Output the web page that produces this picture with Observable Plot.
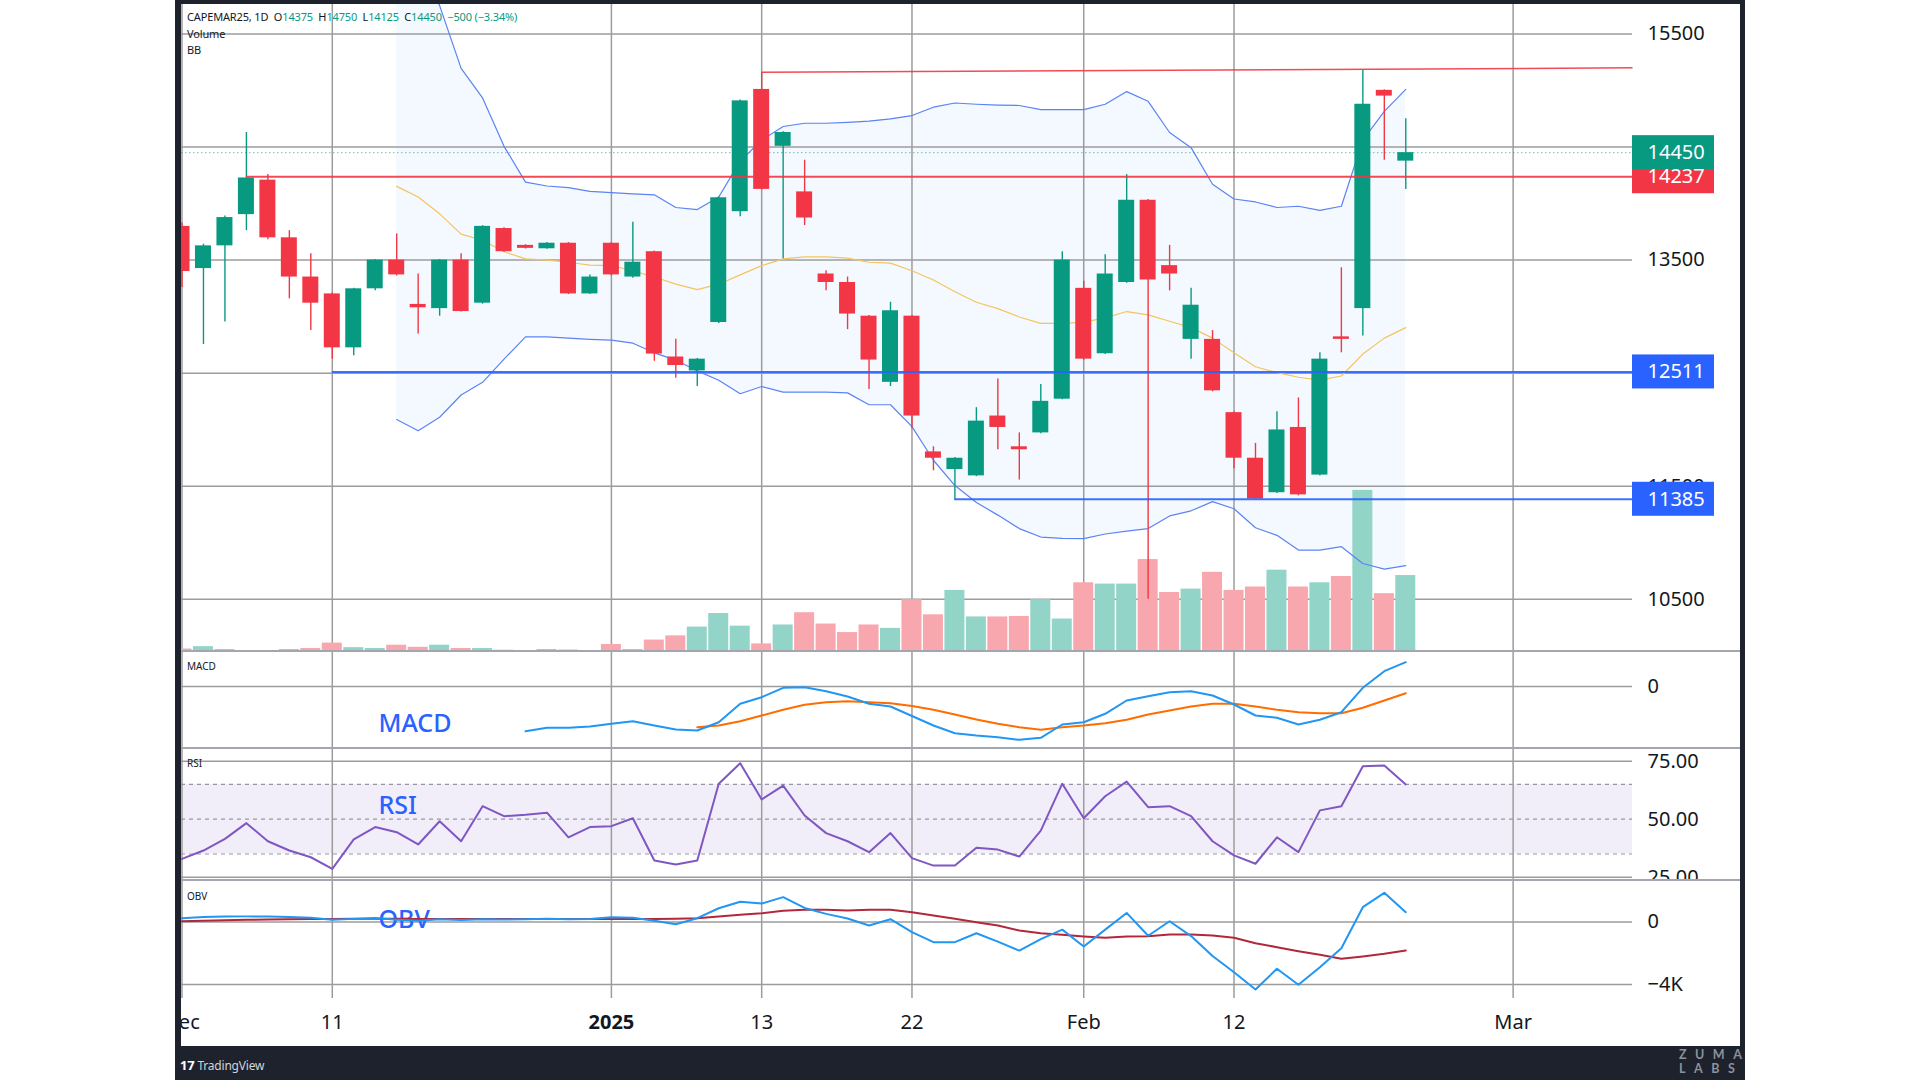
<!DOCTYPE html>
<html><head><meta charset="utf-8">
<script src="https://cdn.jsdelivr.net/npm/d3@7"></script>
<script src="https://cdn.jsdelivr.net/npm/@observablehq/plot@0.6"></script>
<style>
html,body{margin:0;padding:0;width:1920px;height:1080px;overflow:hidden;background:#fff;font-family:"Noto Sans",Roboto,sans-serif;}
#root{position:relative;width:1920px;height:1080px;}
#panes{position:absolute;left:181px;top:0;width:1559px;height:1046px;overflow:hidden;background:#fff;}
.frame{position:absolute;background:#1e222d;z-index:50;}
.divider{position:absolute;left:0;width:1559px;height:2px;background:#a3a6ae;z-index:20;}
#hdr{position:absolute;left:6px;top:9px;font-size:11px;letter-spacing:-0.15px;line-height:16.5px;color:#131722;z-index:30;white-space:pre;}
#hdr .g{color:#089981;}
.ptitle{position:absolute;left:6px;font-size:10px;color:#131722;z-index:30;}
</style></head>
<body><div id="root"><div id="panes"></div></div>
<script>
// ---------------- DATA ----------------
const dates = ["2024-12-02","2024-12-03","2024-12-04","2024-12-05","2024-12-06","2024-12-09","2024-12-10","2024-12-11","2024-12-12","2024-12-13",
"2024-12-16","2024-12-17","2024-12-18","2024-12-19","2024-12-20","2024-12-23","2024-12-24","2024-12-27","2024-12-30","2024-12-31",
"2025-01-02","2025-01-03","2025-01-06","2025-01-07","2025-01-08","2025-01-09","2025-01-10","2025-01-13","2025-01-14","2025-01-15",
"2025-01-16","2025-01-17","2025-01-20","2025-01-21","2025-01-22","2025-01-23","2025-01-24","2025-01-27","2025-01-28","2025-01-29",
"2025-01-30","2025-01-31","2025-02-03","2025-02-04","2025-02-05","2025-02-06","2025-02-07","2025-02-10","2025-02-11","2025-02-12",
"2025-02-13","2025-02-14","2025-02-17","2025-02-18","2025-02-19","2025-02-20","2025-02-21","2025-02-24"];
const open  = [13798,13425,13626,13902,14207,13697,13350,13201,12724,13246, 13500,13108,13071,13500,13119,13779,13630,13600,13649,13201,
               13649,13350,13574,12643,12520,12948,13928,15009,14506,14103, 13377,13302,13004,12419,13004,11804,11648,11592,12121,11849,
               11972,12270,13250,12672,13302,14029,13451,12799,12799,12151, 11748,11443,12020,11599,12821,13071,15001,14375];
const high  = [13830,13640,13890,14628,14256,13760,13555,13210,13250,13505, 13731,13377,13505,13555,13805,13785,13636,13655,13655,13369,
               13655,13835,13580,12799,12630,14060,14915,15158,14635,14383, 13406,13350,13010,13127,13010,11849,11755,12195,12449,11972,
               12400,13574,13313,13548,14256,14035,13630,13250,12877,12160, 11879,12158,12281,12680,13432,15176,15005,14750];
const low   = [13257,12754,12952,13760,13680,13157,12877,12624,12654,13228, 13360,12847,13004,13040,13110,13570,13598,13595,13195,13195,
               13360,13340,12605,12456,12382,12940,13883,14120,13511,13805, 13228,12885,12356,12382,12009,11637,11376,11585,11823,11555,
               11965,12265,12615,12665,13295,10500,13228,12624,12335,11655, 11385,11435,11415,11590,12680,12829,14383,14125];
const close = [13399,13626,13876,14226,13697,13350,13119,12724,13246,13500, 13369,13078,13500,13045,13798,13574,13604,13649,13201,13350,
               13369,13481,12669,12568,12624,14051,14908,14125,14628,13872, 13302,13023,12616,13052,12121,11748,11748,12076,12020,11823,
               12251,13500,12624,13377,14029,13324,13377,13101,12344,11748, 11387,11998,11424,12624,12799,14878,14950,14450];
const volume = [40,78,32,8,8,32,49,136,62,49, 102,68,102,49,49,21,13,32,24,8,
                113,32,185,253,395,614,410,123,429,627, 444,306,429,374,839,593,988,559,559,567,
                839,525,1111,1090,1090,1487,954,1009,1281,988, 1043,1315,1043,1111,1213,2605,935,1228];
const bbUpper = [null,null,null,null,null,null,null,null,null,null,
                 16213,16125,15750,15195,14934,14506,14189,14155,14140,14107, 14096,14085,14077,13965,13947,14058,14375,14561,14681,14710,
                 14710,14718,14729,14748,14778,14852,14889,14878,14871,14867, 14830,14830,14830,14878,14990,14904,14628,14494,14170,14040,
                 14014,13965,13976,13939,13976,14561,14815,15009];
const bbBasis = [null,null,null,null,null,null,null,null,null,null,
                 14152,14058,13909,13730,13675,13574,13511,13500,13481,13455, 13451,13406,13350,13287,13239,13287,13369,13451,13511,13529,
                 13529,13518,13481,13473,13406,13324,13220,13127,13071,12997, 12941,12941,12952,12989,13045,13015,12959,12903,12810,12680,
                 12557,12505,12464,12438,12475,12669,12810,12903];
const bbLower = [null,null,null,null,null,null,null,null,null,null,
                 12091,11991,12110,12307,12419,12624,12821,12821,12810,12799, 12792,12765,12680,12616,12520,12438,12318,12382,12333,12333,
                 12333,12326,12221,12221,12028,11730,11506,11357,11245,11126, 11051,11040,11037,11078,11104,11126,11238,11283,11364,11301,
                 11133,11066,10936,10936,10966,10817,10768,10798];
const macdLine = [null,null,null,null,null,null,null,null,null,null, null,null,null,null,null,null,
                  -447,-413,-413,-400, -373,-347,-390,-430,-440,-357,-173,-107,-13,-7,
                  -47,-100,-173,-200,-295,-390,-467,-490,-507,-533, -513,-380,-357,-273,-140,-97,-57,-47,-90,-180,
                  -290,-313,-380,-333,-257,-13,153,243];
const macdSignal = [null,null,null,null,null,null,null,null,null,null, null,null,null,null,null,null,null,null,null,null,
                  null,null,null,null,-407,-390,-347,-290,-233,-183,
                  -157,-147,-157,-167,-195,-233,-280,-330,-373,-407, -433,-407,-390,-367,-333,-280,-240,-200,-173,-173,
                  -200,-233,-257,-267,-267,-213,-140,-67];
const rsi = [32.9,36.5,41.5,48.3,40.5,36.5,33.6,28.6,41.3,46.6, 44.4,39.1,49.1,40.5,55.6,51.3,51.9,52.8,42.2,46.6,
             47.0,50.4,32.2,30.5,32.2,65.3,74.1,58.5,64.5,51.6, 44.0,40.5,35.8,44.0,33.2,30.0,30.0,37.7,36.9,33.9,
             45.1,65.3,50.4,59.9,66.2,55.2,55.6,51.3,40.5,34.4, 30.8,42.2,35.8,53.8,55.6,72.8,73.1,65.0];
const obv = [245,320,350,360,350,320,275,140,200,250, 150,80,180,130,180,160,175,205,180,190,
             300,270,85,-140,245,880,1300,1180,1590,900, 520,220,-225,180,-650,-1290,-1290,-720,-1260,-1830,
             -1100,-490,-1570,-490,580,-880,50,-900,-2180,-3220, -4320,-2990,-4020,-2890,-1675,949,1867,629];
const obvSmooth = [50,80,110,140,160,180,195,200,205,205, 205,200,200,195,195,190,190,190,190,190,
             195,200,200,210,245,350,460,565,715,780, 780,740,780,780,630,416,203,-11,-224,-544,
             -715,-821,-928,-1013,-928,-907,-800,-800,-864,-1013, -1355,-1611,-1867,-2101,-2357,-2208,-2037,-1824];
const tickBars   = [0, 7, 20, 27, 34, 42, 49, 62];
const tickLabels = ["Dec", "11", "2025", "13", "22", "Feb", "12", "Mar"];
const tickIsYear = [false, false, true, false, false, false, false, false];
const priceTicks = [15500, 14500, 13500, 12500, 11500, 10500];
const macdTicks = [0];
const rsiTicks = [75, 50, 25];
const rsiBandLevels = [65, 50, 35];
const obvTicks = [0, -4000];
const obvTickLabels = ["0", "\u22124K"];
const levels = [
  {price: 14237, fromBar: 3, kind: "resistance"},
  {price: 12511, fromBar: 7, kind: "support"},
  {price: 11385, fromBar: 36, kind: "support"}
];
const trendLine = {fromBar: 27, fromPrice: 15160, toPrice: 15200};

// ---------------- LAYOUT / STYLE ----------------
const UP = "#089981", DOWN = "#f23645", BLUE = "#2962ff";
const VOL_UP = "#92d4c8", VOL_DOWN = "#f9a7ae";
const GRID = "#9c9c9c";
const FONT = '"Noto Sans", Roboto, sans-serif';
const W = 1559, MR = 108;
const X_DOMAIN = [-0.0233, 67.56];
const panes = document.getElementById("panes");

const rows = dates.map((d, i) => ({i, date: d, o: open[i], h: high[i], l: low[i], c: close[i], v: volume[i]}));
const col = d => d.c >= d.o ? UP : DOWN;
const bb = rows.map(r => ({i: r.i, up: bbUpper[r.i], mid: bbBasis[r.i], lo: bbLower[r.i]})).filter(d => d.mid != null);
const macdRows = rows.map(r => ({i: r.i, v: macdLine[r.i]})).filter(d => d.v != null);
const sigRows = rows.map(r => ({i: r.i, v: macdSignal[r.i]})).filter(d => d.v != null);
const rsiRows = rows.map(r => ({i: r.i, v: rsi[r.i]}));
const obvRows = rows.map(r => ({i: r.i, v: obv[r.i], s: obvSmooth[r.i]}));
const last = rows[rows.length - 1], prev = rows[rows.length - 2];
const xEnd = X_DOMAIN[1];

function pane(top, height, yDomain, marks) {
  const p = Plot.plot({
    width: W, height, marginLeft: 0, marginRight: MR, marginTop: 0, marginBottom: 0,
    x: {domain: X_DOMAIN, axis: null},
    y: {domain: yDomain, axis: null},
    style: {position: "absolute", left: "0px", top: top + "px", background: "transparent", maxWidth: "none", overflow: "hidden", fontFamily: FONT},
    marks
  });
  panes.appendChild(p);
  return p;
}
const vGrid = () => Plot.ruleX(tickBars, {stroke: GRID, strokeWidth: 1.5});
const axisText = (ticks, text) => Plot.text(ticks, {x: xEnd, y: d => d, text: (d, k) => text ? text[k] : String(d), dx: 15, textAnchor: "start", fontSize: 20, fill: "#131722"});

// main pane geometry
const MAIN_TOP = 4, MAIN_H = 647, PRICE_DOMAIN = [10039, 15760];

// layer A: grid + BB background
pane(MAIN_TOP, MAIN_H, PRICE_DOMAIN, [
  Plot.areaY(bb, {x: "i", y1: "lo", y2: "up", fill: "#2196f3", fillOpacity: 0.055, clip: true}),
  Plot.ruleY(priceTicks, {stroke: GRID, strokeWidth: 1.5}),
  vGrid()
]);
// layer B: volume
pane(MAIN_TOP, MAIN_H, [0, d3.max(volume) / 0.249], [
  Plot.rect(rows, {x1: "i", x2: "i", y1: 0, y2: "v", insetLeft: -10, insetRight: -10, fill: d => d.c >= d.o ? VOL_UP : VOL_DOWN, clip: true})
]);
// layer C: price
const tags = [
  {value: levels[0].price, fill: DOWN},
  {value: last.c, fill: UP},
  {value: levels[1].price, fill: BLUE},
  {value: levels[2].price, fill: BLUE}
];
pane(MAIN_TOP, MAIN_H, PRICE_DOMAIN, [
  Plot.line(bb, {x: "i", y: "up", stroke: "#5b83f5", strokeWidth: 1.2, clip: true}),
  Plot.line(bb, {x: "i", y: "lo", stroke: "#5b83f5", strokeWidth: 1.2, clip: true}),
  Plot.line(bb, {x: "i", y: "mid", stroke: "#f5c45e", strokeWidth: 1.2, clip: true}),
  Plot.ruleY([last.c], {stroke: UP, strokeOpacity: 0.6, strokeDasharray: "1.5,2.5", strokeWidth: 1}),
  Plot.ruleX(rows, {x: "i", y1: "l", y2: "h", stroke: col, strokeWidth: 1.4, clip: true}),
  Plot.rect(rows, {x1: "i", x2: "i", y1: "o", y2: "c", insetLeft: -8, insetRight: -8, fill: col, clip: true}),
  Plot.ruleY(levels, {y: "price", x1: "fromBar", x2: xEnd, stroke: d => d.kind === "resistance" ? DOWN : BLUE, strokeWidth: 2, strokeOpacity: 0.9}),
  Plot.link([trendLine], {x1: "fromBar", y1: "fromPrice", x2: xEnd, y2: "toPrice", stroke: DOWN, strokeWidth: 1.5, strokeOpacity: 0.9}),
  axisText(priceTicks),
  Plot.rect(tags, {x1: xEnd, x2: xEnd, y1: "value", y2: "value", insetRight: -82, insetTop: -17, insetBottom: -17, fill: "fill"}),
  Plot.text(tags, {x: xEnd, y: "value", text: d => String(d.value), dx: 15, textAnchor: "start", fontSize: 20, fill: "white"})
]);

// MACD pane
pane(651, 97, [-620, 350], [
  Plot.ruleY(macdTicks, {stroke: GRID, strokeWidth: 1.5}),
  vGrid(),
  Plot.text(["MACD"], {frameAnchor: "top-left", dx: 197, dy: 72, textAnchor: "start", lineAnchor: "middle", fontSize: 25, fontWeight: 500, fill: BLUE}),
  Plot.line(sigRows, {x: "i", y: "v", stroke: "#ff6d00", strokeWidth: 2}),
  Plot.line(macdRows, {x: "i", y: "v", stroke: "#2196f3", strokeWidth: 2}),
  axisText(macdTicks)
]);
// RSI pane
pane(748, 132, [23.58, 80.47], [
  Plot.rect([{lo: rsiBandLevels[2], hi: rsiBandLevels[0]}], {y1: "lo", y2: "hi", fill: "#7e57c2", fillOpacity: 0.1}),
  Plot.ruleY([rsiTicks[0], rsiTicks[2]], {stroke: GRID, strokeWidth: 1.5}),
  Plot.ruleY(rsiBandLevels, {stroke: "#9598a1", strokeWidth: 1.2, strokeDasharray: "4,4"}),
  vGrid(),
  Plot.text(["RSI"], {frameAnchor: "top-left", dx: 197, dy: 57, textAnchor: "start", lineAnchor: "middle", fontSize: 25, fontWeight: 500, fill: BLUE}),
  Plot.line(rsiRows, {x: "i", y: "v", stroke: "#7e57c2", strokeWidth: 2}),
  axisText(rsiTicks, rsiTicks.map(d => d.toFixed(2)))
]);
// OBV pane
pane(880, 118, [-4896, 2656], [
  Plot.ruleY(obvTicks, {stroke: GRID, strokeWidth: 1.5}),
  vGrid(),
  Plot.text(["OBV"], {frameAnchor: "top-left", dx: 197, dy: 39, textAnchor: "start", lineAnchor: "middle", fontSize: 25, fontWeight: 500, fill: BLUE}),
  Plot.line(obvRows, {x: "i", y: "s", stroke: "#b2283a", strokeWidth: 2}),
  Plot.line(obvRows, {x: "i", y: "v", stroke: "#2196f3", strokeWidth: 2}),
  axisText(obvTicks, obvTickLabels)
]);
// time axis
const ticks = tickBars.map((b, k) => ({b, label: tickLabels[k], year: tickIsYear[k]}));
pane(998, 48, [0, 1], [
  Plot.text(ticks.filter(d => !d.year), {x: "b", text: "label", fontSize: 20, fill: "#131722"}),
  Plot.text(ticks.filter(d => d.year), {x: "b", text: "label", fontSize: 20, fontWeight: 700, fill: "#131722"})
]);

// dividers
[650, 747, 879].forEach(y => {
  const d = document.createElement("div"); d.className = "divider"; d.style.top = y + "px"; panes.appendChild(d);
});
// header and pane titles
const chg = last.c - prev.c, pct = chg / prev.c * 100;
const sgn = v => (v < 0 ? "\u2212" : "+");
const hdr = document.createElement("div"); hdr.id = "hdr";
hdr.innerHTML = `CAPEMAR25, 1D  O<span class="g">${last.o}</span>  H<span class="g">${last.h}</span>  L<span class="g">${last.l}</span>  C<span class="g">${last.c}</span>  <span class="g">${sgn(chg)}${Math.abs(chg)} (${sgn(chg)}${Math.abs(pct).toFixed(2)}%)</span>\nVolume\nBB`;
panes.appendChild(hdr);
[["MACD", 659], ["RSI", 756], ["OBV", 889]].forEach(([t, y]) => {
  const d = document.createElement("div"); d.className = "ptitle"; d.style.top = y + "px"; d.textContent = t; panes.appendChild(d);
});

// frame + footer
const root = document.getElementById("root");
function box(l, t, w, h) { const d = document.createElement("div"); d.className = "frame"; Object.assign(d.style, {left: l + "px", top: t + "px", width: w + "px", height: h + "px"}); root.appendChild(d); return d; }
box(175, 0, 6, 1080); box(1740, 0, 5, 1080); box(175, 0, 1570, 4);
const foot = box(175, 1046, 1570, 34);
foot.innerHTML = `<div style="position:absolute;left:5px;top:10px;font-size:12px;color:#d1d4dc;letter-spacing:-0.2px"><b style="color:#fff;font-size:13px">17</b> TradingView</div>
<div style="position:absolute;left:1504px;top:2px;font-size:12.5px;font-weight:700;line-height:14px;color:#8c919b;letter-spacing:8.5px;font-family:Lato,sans-serif">ZUMA<br>LABS</div>`;
</script></body></html>
